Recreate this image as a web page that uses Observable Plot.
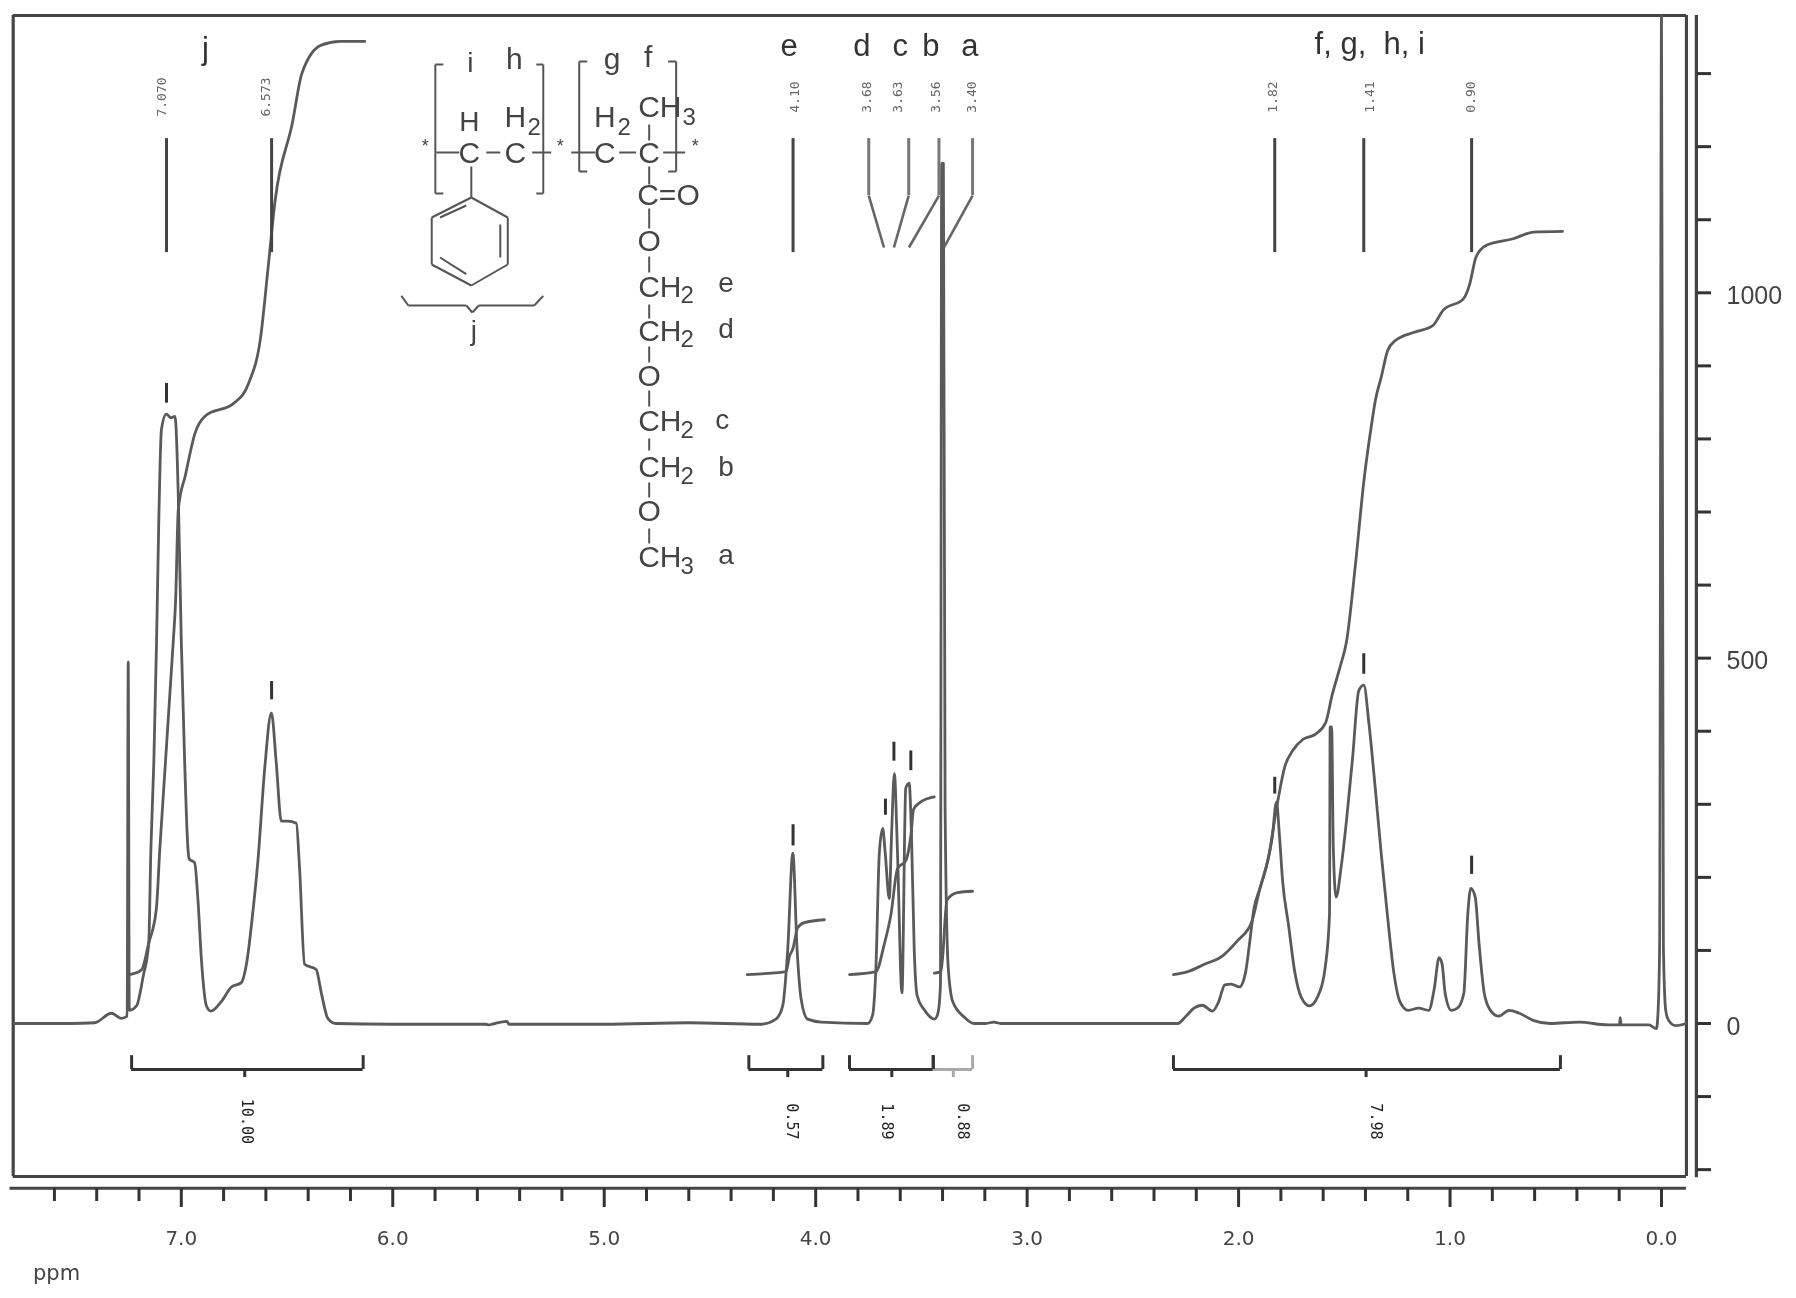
<!DOCTYPE html>
<html><head><meta charset="utf-8">
<script src="https://cdn.jsdelivr.net/npm/d3@7"></script>
<script src="https://cdn.jsdelivr.net/npm/@observablehq/plot@0.6"></script>
<style>html,body{margin:0;padding:0;background:#fff}svg{display:block;max-width:none!important;filter:blur(.55px)}</style>
</head><body><div id="chart"></div>
<script>
// 1H NMR spectrum, chemical shift in ppm, intensity on the right-hand scale
const specPpm=[7.79,7.525,7.41,7.33,7.283,7.256,7.251,7.246,7.212,7.18,7.154,7.144,7.13,7.117,7.106,7.094,7.071,7.049,7.03,7.014,7.0,6.984,6.968,6.962,6.937,6.921,6.905,6.881,6.86,6.811,6.763,6.716,6.692,6.66,6.637,6.605,6.574,6.551,6.527,6.497,6.456,6.441,6.417,6.362,6.338,6.307,6.269,6.0,5.56,5.545,5.53,5.46,5.45,5.44,5.0,4.6,4.26,4.188,4.156,4.132,4.108,4.088,4.069,4.038,3.974,3.754,3.731,3.715,3.699,3.683,3.671,3.652,3.641,3.628,3.613,3.592,3.574,3.558,3.547,3.534,3.52,3.487,3.438,3.422,3.41,3.404,3.396,3.388,3.374,3.352,3.298,3.25,3.195,3.158,3.125,2.8,2.415,2.288,2.249,2.211,2.172,2.123,2.094,2.065,2.035,1.996,1.967,1.948,1.928,1.899,1.87,1.841,1.821,1.806,1.792,1.763,1.734,1.704,1.665,1.627,1.588,1.57,1.567,1.56,1.552,1.539,1.515,1.49,1.461,1.432,1.408,1.383,1.354,1.325,1.295,1.266,1.237,1.198,1.149,1.101,1.075,1.052,1.038,1.023,0.994,0.965,0.935,0.916,0.902,0.881,0.863,0.838,0.809,0.77,0.721,0.672,0.604,0.526,0.39,0.254,0.199,0.195,0.191,0.059,0.024,0.016,0.009,0,-0.009,-0.02,-0.034,-0.067,-0.116];
const specInt=[0,0,1,14,7,10,495,18,24,65,110,237,357,523,694,813,834,829,831,719,523,357,237,225,220,168,88,24,17,30,50,56,81,157,225,351,425,357,277,277,274,214,81,74,42,7,0,-1,-1,-2,-1,3,-1,-1,-1,1,-1,6,24,102,233,102,34,6,2,0,11,77,233,267,233,171,259,342,233,42,322,329,259,102,38,19,6,14,52,1177,1177,300,81,30,9,0,0,2,0,0,0,0,10,21,25,17,30,53,54,50,70,110,156,185,214,254,303,254,196,133,70,36,24,36,82,150,406,406,240,173,214,277,363,455,463,409,323,231,145,70,30,18,21,18,47,90,82,41,18,21,41,150,185,173,110,41,18,10,18,14,4,0,2,-2,-2,8,-2,-2,-7,18,104,1379,104,18,4,-3,0];

const integralJPpm=[7.244,7.189,7.154,7.118,7.102,7.038,7.027,7.014,6.98,6.935,6.888,6.751,6.682,6.625,6.59,6.556,6.475,6.43,6.338,6.248,6.132];
const integralJInt=[67,73,110,157,237,523,578,704,751,808,831,849,876,939,1033,1127,1232,1300,1339,1344,1344];
const integralEPpm=[4.324,4.14,4.124,4.108,4.085,4.054,3.959];
const integralEInt=[67,71,92,102,131,138,142];
const integralDPpm=[3.84,3.715,3.676,3.644,3.613,3.574,3.549,3.537,3.504,3.439];
const integralDInt=[67,71,108,149,212,223,259,293,303,310];
const integralAPpm=[3.439,3.407,3.379,3.33,3.258];
const integralAInt=[69,71,169,179,181];
const integralFPpm=[2.308,2.24,2.162,2.074,2.006,1.938,1.899,1.86,1.821,1.782,1.743,1.695,1.636,1.588,1.558,1.519,1.49,1.446,1.408,1.371,1.353,1.325,1.295,1.257,1.169,1.082,1.033,0.936,0.907,0.877,0.828,0.701,0.605,0.468];
const integralFInt=[67,71,81,93,113,139,185,225,294,351,374,389,396,412,449,489,522,632,741,820,853,885,921,935,946,955,976,992,1012,1049,1065,1074,1083,1084];

const xMinorTicks=[0.2,0.4,0.6,0.8,1.2,1.4,1.6,1.8,2.2,2.4,2.6,2.8,3.2,3.4,3.6,3.8,4.2,4.4,4.6,4.8,5.2,5.4,5.6,5.8,6.2,6.4,6.6,6.8,7.2,7.4,7.6];
const xMajorTicks=[0,1,2,3,4,5,6,7];
const yTicks=[-200,-100,0,100,200,300,400,500,600,700,800,900,1000,1100,1200,1300];
const yLabelled=[0,500,1000];

const peakLabels=["7.070","6.573","4.10","3.68","3.63","3.56","3.40","1.82","1.41","0.90"];
const peakLabelPpm=[7.09,6.6,4.10,3.758,3.61,3.43,3.262,1.836,1.381,0.902];
const straightPpm=[7.07,6.573,4.107,1.829,1.408,0.898];
const slantTop=[3.749,3.56,3.417,3.258];
const slantBottom=[3.677,3.63,3.559,3.393];
const markPpm=[7.07,6.573,4.107,3.67,3.63,3.55,1.829,1.408,0.898];
const markLow=[849,443,243,285,359,346,314,478,204];
const markHigh=[876,468,272,307,385,373,337,506,229];

const bracketFrom=[7.235,4.316,3.84,3.444,2.308];
const bracketTo=[6.14,3.966,3.444,3.258,0.478];
const bracketMid=[6.70,4.132,3.64,3.349,1.397];
const bracketValue=["10.00","0.57","1.89","0.88","7.98"];
const bracketValuePpm=[6.69,4.113,3.664,3.305,1.351];

const groupLetters=["j","e","d","c","b","a","f, g,  h, i"];
const groupPpm=[6.886,4.125,3.782,3.6,3.455,3.271,1.38];
const groupInt=[1334,1338,1338,1338,1338,1338,1340];

// Structure inset: drawn in its own sheet units, then placed over the plot's scales
const sheetX=u=>(1661-u)/211.6, sheetY=v=>(1023-v)/0.7307;
const bonds=[[435,152,458,152],[485,152,499,152],[531,152,550,152],[570,152,594,152],[618,152,635,152],[662,152,684,152],
[434,64,434,193],[434,64,442,64],[434,193,442,193],[542,64,542,193],[542,64,535,64],[542,193,535,193],
[578,61,578,171],[578,61,586,61],[578,171,586,171],[675,61,675,171],[675,61,667,61],[675,171,667,171],
[470,166,470,197],[470,197,506.5,217],[506.5,217,506.5,264],[506.5,264,470,285],[470,285,430.4,264],[430.4,264,430.4,217],[430.4,217,470,197],
[499,224,499,257],[438.7,217,465,205],[438.7,257,465,273.6],
[648,124,648,140],[648,166,648,184],[648,208,648,228],[648,256,648,272],[648,304,648,318],[648,346,648,362],[648,390,648,406],[648,438,648,450],[648,482,648,497],[648,528,648,543],
[400,295.4,407,305],[407,305,465,305],[465,305,471,312],[471,312,477.5,305],[477.5,305,533,305],[533,305,542,295.4]];
const atoms=[["C",468,153,30],["C",514,153,30],["C",603.5,153,30],["C",648,153,30],["H",468,122,28],["H",514,117,30],["H",603.5,117,30],
["CH",637,107,30,"start"],["C=O",636,195,30,"start"],["O",648,241,30],["CH",637,287,30,"start"],["CH",637,331,30,"start"],["O",648,376,30],["CH",637,421,30,"start"],["CH",637,467,30,"start"],["O",648,511,30],["CH",637,557,30,"start"],
["*",424,146,18],["*",559,146,18],["*",694,146,18],
["2",533,127,24],["2",623,127,24],["3",688,117,24],["2",686,295,24],["2",686,339,24],["2",686,430,24],["2",686,476,24],["3",686,566,24],
["i",469,63,28],["h",513,59,30],["g",611,59,30],["f",647,57,30],["j",472.6,331,28],
["e",725,283,28],["d",725,329,28],["c",721,420,28],["b",725,467,28],["a",725,555,28]];

const ink="#5a5a5a", F="Liberation Sans", G="DejaVu Sans", M="DejaVu Sans Mono";
const frameL=7.795, frameR=-0.118, frameT=1379.5, frameB=-209.4;

const chart=Plot.plot({
  width:1796,height:1298,marginTop:0,marginLeft:0,marginRight:100,marginBottom:110,
  style:{background:"#fff",overflow:"visible"},
  x:{domain:[7,0],range:[180.8,1661],axis:null},
  y:{domain:[0,1000],range:[1023,292.3],axis:null},
  marks:[
    // frame and scale lines
    Plot.ruleX([frameL,frameR],{y1:frameB,y2:frameT,stroke:"#444",strokeWidth:3.2}),
    Plot.ruleY([frameT,frameB],{x1:frameL,x2:frameR,stroke:"#444",strokeWidth:3.2}),
    Plot.ruleY([-225.5],{x1:7.81,x2:frameR,stroke:"#444",strokeWidth:3.2}),
    Plot.ruleX([-0.165],{y1:-211,y2:frameT,stroke:"#444",strokeWidth:3.2}),
    Plot.axisX({ticks:xMinorTicks,anchor:"bottom",tickSize:13,fill:"none",label:null,stroke:"#333",strokeWidth:3}),
    Plot.axisX({ticks:xMajorTicks,anchor:"bottom",tickSize:19,tickPadding:23,tickFormat:d=>d.toFixed(1),label:null,stroke:"#333",strokeWidth:3,fontSize:20,fontFamily:G,fill:"#444"}),
    Plot.axisY({ticks:yTicks,anchor:"right",tickSize:14,fill:"none",label:null,stroke:"#333",strokeWidth:3}),
    Plot.axisY({ticks:yLabelled,anchor:"right",tickSize:0,tickPadding:30,tickFormat:d=>String(d),label:null,fontSize:25,fontFamily:F,fill:"#444",stroke:"none",dy:3}),
    Plot.text(["ppm"],{x:[7.59],y:[-342],fontSize:21,fontFamily:G,fill:"#444"}),
    // spectrum and integral curves
    Plot.line(specPpm,{x:specPpm,y:specInt,stroke:ink,strokeWidth:2.8,curve:"monotone-x"}),
    Plot.line(integralJPpm,{x:integralJPpm,y:integralJInt,stroke:ink,strokeWidth:2.8,curve:"monotone-x"}),
    Plot.line(integralEPpm,{x:integralEPpm,y:integralEInt,stroke:ink,strokeWidth:2.8,curve:"monotone-x"}),
    Plot.line(integralDPpm,{x:integralDPpm,y:integralDInt,stroke:ink,strokeWidth:2.8,curve:"monotone-x"}),
    Plot.line(integralAPpm,{x:integralAPpm,y:integralAInt,stroke:ink,strokeWidth:2.8,curve:"monotone-x"}),
    Plot.line(integralFPpm,{x:integralFPpm,y:integralFInt,stroke:ink,strokeWidth:2.8,curve:"monotone-x"}),
    // peak picking
    Plot.ruleX(straightPpm,{y1:1055,y2:1211,stroke:"#444",strokeWidth:3}),
    Plot.ruleX(slantTop,{y1:1133,y2:1211,stroke:"#777",strokeWidth:3}),
    Plot.link(slantTop,{x1:slantTop,x2:slantBottom,y1:slantTop.map(()=>1133),y2:slantTop.map(()=>1062),stroke:"#666",strokeWidth:2.6}),
    Plot.ruleX(markPpm,{y1:markLow,y2:markHigh,stroke:"#333",strokeWidth:3}),
    Plot.text(peakLabels,{x:peakLabelPpm,y:peakLabels.map(()=>1268),rotate:-90,fontSize:13,fontFamily:M,fill:"#666"}),
    // integration brackets
    Plot.ruleY(bracketFrom.map(()=>-63),{x1:bracketFrom,x2:bracketTo,stroke:(d,i)=>i===3?"#aaa":"#333",strokeWidth:3}),
    Plot.ruleX(bracketFrom,{y1:-44,y2:-63,stroke:"#333",strokeWidth:3}),
    Plot.ruleX(bracketTo,{y1:-44,y2:-63,stroke:(d,i)=>i===3?"#aaa":"#333",strokeWidth:3}),
    Plot.ruleX(bracketMid,{y1:-63,y2:-74,stroke:(d,i)=>i===3?"#aaa":"#333",strokeWidth:3}),
    Plot.text(bracketValue,{x:bracketValuePpm,y:bracketValue.map(()=>-134),rotate:90,fontSize:15,fontFamily:M,fill:"#222"}),
    // group letters
    Plot.text(groupLetters,{x:groupPpm,y:groupInt,fontSize:31,fontFamily:F,fill:"#333"}),
    // structure inset
    Plot.link(bonds,{x1:d=>sheetX(d[0]),y1:d=>sheetY(d[1]),x2:d=>sheetX(d[2]),y2:d=>sheetY(d[3]),stroke:"#555",strokeWidth:2}),
    Plot.text(atoms.filter(a=>a[4]!=="start"),{x:d=>sheetX(d[1]),y:d=>sheetY(d[2]),text:d=>d[0],fontSize:d=>d[3],fontFamily:F,fill:"#444"}),
    Plot.text(atoms.filter(a=>a[4]==="start"),{x:d=>sheetX(d[1]),y:d=>sheetY(d[2]),text:d=>d[0],fontSize:d=>d[3],textAnchor:"start",fontFamily:F,fill:"#444"})
  ]
});
document.getElementById("chart").append(chart);
</script></body></html>
